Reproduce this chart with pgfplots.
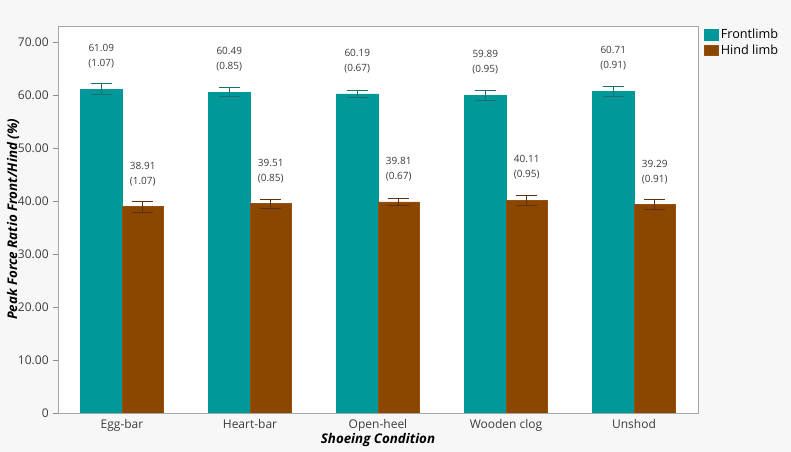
\documentclass[border=0pt]{standalone}
\usepackage{fontspec}
\setmainfont{Open Sans}
\usepackage{pgfplots}
\usepackage{pgfplotstable}
\pgfplotsset{compat=1.18}
\definecolor{teal1}{RGB}{0,152,152}
\definecolor{teale}{RGB}{25,110,110}
\definecolor{brown1}{RGB}{139,70,0}
\definecolor{browne}{RGB}{150,80,20}
\definecolor{brownerr}{RGB}{95,48,10}
\definecolor{bgcol}{RGB}{247,247,247}
\definecolor{tickcol}{RGB}{60,60,60}

\pgfplotstableread{
x y err
0 61.09 1.07
1 60.49 0.85
2 60.19 0.67
3 59.89 0.95
4 60.71 0.91
}\front
\pgfplotstableread{
x y err
0 38.91 1.07
1 39.51 0.85
2 39.81 0.67
3 40.11 0.95
4 39.29 0.91
}\hind

\begin{document}
\begin{tikzpicture}
\fill[bgcol] (-43.5pt,-29.25pt) rectangle (549.75pt,309.75pt);
\path[use as bounding box] (-43.5pt,-29.25pt) rectangle (549.75pt,309.75pt);
\begin{axis}[
  at={(0,0)}, anchor=south west,
  scale only axis,
  width=480pt, height=290.25pt,
  xmin=-0.5, xmax=4.5, ymin=0, ymax=73,
  ybar=0pt, bar width=31.1pt,
  axis background/.style={fill=white},
  axis line style={draw=black!35},
  xtick={0,1,2,3,4},
  xticklabels={Egg-bar,Heart-bar,Open-heel,Wooden clog,Unshod},
  xtick style={draw=none},
  ytick={0,10,...,70},
  yticklabels={0,10.00,20.00,30.00,40.00,50.00,60.00,70.00},
  ytick pos=left, tick align=outside,
  major tick length=3.5pt,
  ytick style={draw=black!45},
  tick label style={font=\fontsize{9}{11}\selectfont, text=tickcol},
  xticklabel style={yshift=2.5pt},
  /pgf/number format/assume math mode=true,
  xlabel={Shoeing Condition},
  ylabel={Peak Force Ratio Front/Hind (\%)},
  label style={font=\fontsize{10}{12}\selectfont\bfseries\itshape},
  xlabel style={at={(axis description cs:0.5,-0.070)}, anchor=center},
  ylabel style={at={(axis description cs:-0.0703,0.5)}, anchor=center},
  legend style={draw=none, fill=none, at={(1,1)}, anchor=north west,
    xshift=3pt, yshift=1pt, font=\fontsize{9.5}{11}\selectfont,
    row sep=-1pt, inner sep=1pt},
  legend cell align=left,
  legend image code/.code={\fill[#1] (0pt,-3.8pt) rectangle (10.5pt,3.8pt);},
  nodes near coords={\pgfmathprintnumber[fixed,fixed zerofill,precision=2]{\pgfplotspointmeta}\\(\pgfmathprintnumber[fixed,fixed zerofill,precision=2]{\err})},
  every node near coord/.append style={align=center, anchor=south,
    font=\fontsize{7.5}{11.25}\selectfont, text=tickcol, yshift=14.5pt, inner sep=1pt},
  point meta=y,
  visualization depends on={\thisrow{err} \as \err},
]
\addplot[fill=teal1, draw=teal1,
  error bars/.cd, y dir=both, y explicit,
  error bar style={color=teale, line width=0.6pt},
  error mark options={rotate=90, mark size=7.9pt, color=teale, line width=0.6pt}]
  table[x=x, y=y, y error=err] {\front};
\addplot[fill=brown1, draw=browne,
  error bars/.cd, y dir=both, y explicit,
  error bar style={color=brownerr, line width=0.6pt},
  error mark options={rotate=90, mark size=7.9pt, color=brownerr, line width=0.6pt}]
  table[x=x, y=y, y error=err] {\hind};
\legend{Frontlimb, Hind limb}
\end{axis}
\end{tikzpicture}
\end{document}
